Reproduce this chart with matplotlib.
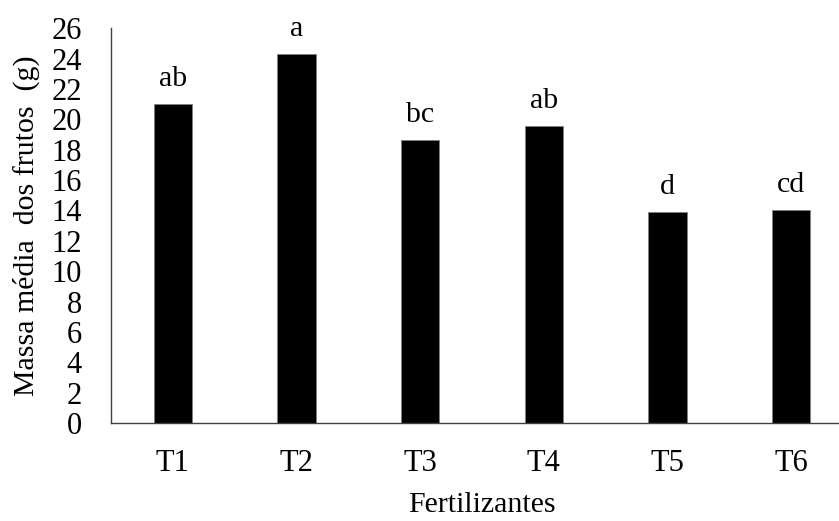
import matplotlib
matplotlib.use("Agg")
import matplotlib.pyplot as plt

plt.rcParams['font.family'] = ['Liberation Serif', 'DejaVu Serif']

tratamentos = ['T1', 'T2', 'T3', 'T4', 'T5', 'T6']
massa = [21.0, 24.3, 18.65, 19.55, 13.9, 14.0]
letras = ['ab', 'a', 'bc', 'ab', 'd', 'cd']
yticks = list(range(0, 27, 2))

fig = plt.figure(figsize=(8.39, 5.21), dpi=100)
# eixo passa um pouco da borda direita, como no original
ax = fig.add_axes([0.1323, 0.188, 0.8845, 0.758])

x = range(len(tratamentos))
bars = ax.bar(x, massa, width=0.31, color='black', edgecolor='#808080', linewidth=0.6)

# letras da comparação de médias
for b, txt in zip(bars, letras):
    ax.annotate(txt, (b.get_x() + b.get_width() / 2, b.get_height()),
                xytext=(0, 13), textcoords='offset points',
                ha='center', va='baseline', fontsize=21.5)

ax.set_xlim(-0.5, 5.5)
ax.set_ylim(0, 26)
ax.set_yticks(yticks)
ax.set_xticks(list(x))
ax.set_xticklabels(tratamentos)
ax.tick_params(axis='both', length=0, labelsize=22)
ax.tick_params(axis='y', pad=21)
ax.tick_params(axis='x', pad=19)

for s in ['top', 'right']:
    ax.spines[s].set_visible(False)
ax.spines['left'].set_color('#404040')
ax.spines['bottom'].set_color('#404040')
ax.spines['left'].set_linewidth(1.0)
ax.spines['bottom'].set_linewidth(1.0)

ax.set_ylabel('Massa média  dos frutos  (g)', fontsize=21.5, labelpad=8)
ax.set_xlabel('Fertilizantes', fontsize=21.5, labelpad=10)

fig.savefig('out.png', dpi=100)
